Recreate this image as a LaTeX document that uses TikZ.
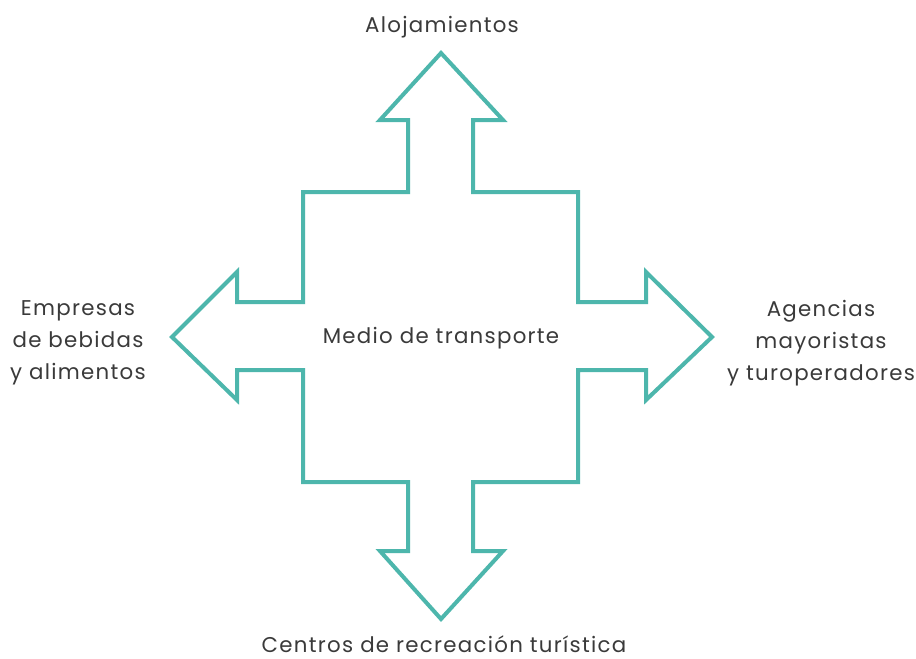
\documentclass[tikz,border=0pt]{standalone}
\usepackage{fontspec}
\setmainfont{Poppins}[LetterSpace=6]
\definecolor{teal1}{HTML}{4DB6AC}
\definecolor{txt}{HTML}{3A3A3A}
\begin{document}
\begin{tikzpicture}[x=0.75pt,y=-0.75pt,
  cross/.style={draw=teal1,line width=3pt,line join=miter,fill=white},
  lbl/.style={text=txt,font=\fontsize{16}{24}\selectfont,align=center,inner sep=0pt,anchor=base}]
\useasboundingbox (0,0) rectangle (916,658);
\draw[cross] (441,53) -- (503,120) -- (473,120) -- (473,192) -- (578,192) -- (578,302)
  -- (646,302) -- (646,272) -- (712,337) -- (646,400) -- (646,370) -- (578,370)
  -- (578,482) -- (473,482) -- (473,551) -- (503,551) -- (441,619) -- (380,551)
  -- (408,551) -- (408,482) -- (303,482) -- (303,370) -- (237,370) -- (237,400)
  -- (172,337) -- (237,272) -- (237,302) -- (303,302) -- (303,192) -- (408,192)
  -- (408,120) -- (380,120) -- cycle;
\node[lbl] (center) at (441,343) {Medio de transporte};
\node[lbl] (top) at (442,32) {Alojamientos};
\node[lbl] (bottom) at (444,652) {Centros de recreación turística};
\node[lbl] (left) at (78,379) {Empresas\\de bebidas\\y alimentos};
\node[lbl] (right) at (821,380) {Agencias\\mayoristas\\y turoperadores};
\end{tikzpicture}
\end{document}
